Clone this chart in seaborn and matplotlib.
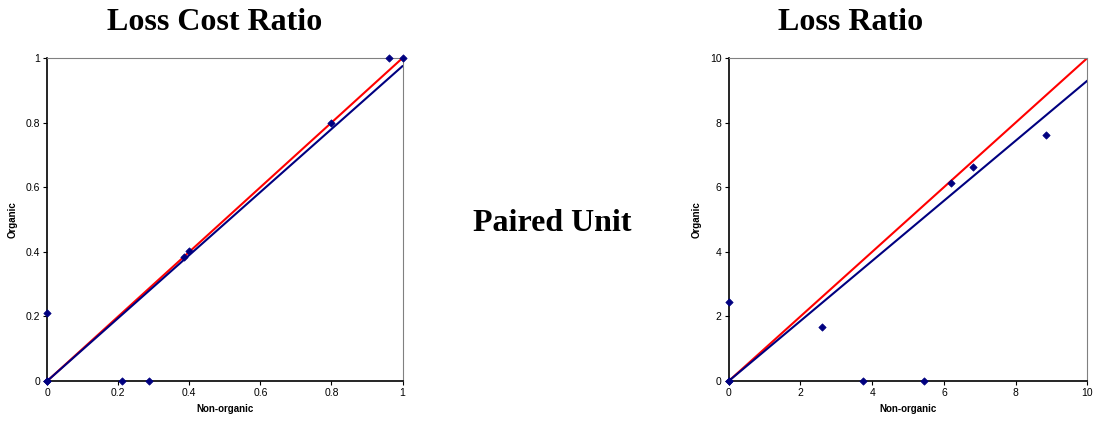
import numpy as np
import pandas as pd
import matplotlib
matplotlib.use("Agg")
import matplotlib.pyplot as plt
import seaborn as sns

# ==============================
# Data
# ==============================
lcr_nonorganic = [0, 0, 0, 0.212, 0.287, 0.385, 0.398, 0.798, 0.962, 1.0]
lcr_organic = [0, 0, 0.212, 0, 0, 0.385, 0.403, 0.800, 1.0, 1.0]
lcr_fit_slope = 0.975

lr_nonorganic = [0, 0, 0, 2.60, 3.75, 5.45, 6.20, 6.82, 8.85]
lr_organic = [0, 0, 2.45, 1.68, 0, 0, 6.12, 6.62, 7.62]
lr_fit_slope = 0.93

panel_titles = ["Loss Cost Ratio", "Loss Ratio"]
center_text = "Paired Unit"
lcr_ticks = [0, 0.2, 0.4, 0.6, 0.8, 1]
lcr_ticklabels = ["0", "0.2", "0.4", "0.6", "0.8", "1"]
lr_ticks = [0, 2, 4, 6, 8, 10]

sns.set_style("white")
plt.rcParams["font.family"] = ["Liberation Sans", "DejaVu Sans"]
plt.rcParams["text.color"] = "black"
plt.rcParams["axes.labelcolor"] = "black"

fig = plt.figure(figsize=(10.94, 4.23), dpi=100)
ax1 = fig.add_axes([0.043, 0.099, 0.325, 0.764])
ax2 = fig.add_axes([0.666, 0.099, 0.328, 0.764])

panels = [
    (ax1, lcr_nonorganic, lcr_organic, lcr_fit_slope, 1.0, lcr_ticks, lcr_ticklabels),
    (ax2, lr_nonorganic, lr_organic, lr_fit_slope, 10.0, lr_ticks, [str(t) for t in lr_ticks]),
]

for ax, xs, ys, slope, top, ticks, labels in panels:
    line_df = pd.DataFrame({"x": [0, top], "equal": [0, top], "fit": [0, top * slope]})
    sns.lineplot(data=line_df, x="x", y="equal", ax=ax, color="#ff0000", linewidth=1.5, zorder=2)
    sns.lineplot(data=line_df, x="x", y="fit", ax=ax, color="#000080", linewidth=1.5, zorder=3)
    pts = pd.DataFrame({"x": xs, "y": ys})
    sns.scatterplot(data=pts, x="x", y="y", ax=ax, marker="D", s=14, color="#000080",
                    edgecolor="#000080", linewidth=0.5, zorder=4, clip_on=False)
    ax.set_xlim(0, top)
    ax.set_ylim(0, top)
    ax.set_xticks(ticks)
    ax.set_xticklabels(labels)
    ax.set_yticks(ticks)
    ax.set_yticklabels(labels)
    ax.tick_params(axis="both", direction="out", length=3, width=0.8, labelsize=7.5,
                   colors="black", bottom=True, left=True, pad=2)
    for side in ["top", "right"]:
        ax.spines[side].set_color("#808080")
        ax.spines[side].set_linewidth(0.8)
    for side in ["left", "bottom"]:
        ax.spines[side].set_color("black")
        ax.spines[side].set_linewidth(1.2)
    ax.set_xlabel("Non-organic", fontsize=7, fontweight="bold", labelpad=4)
    ax.set_ylabel("Organic", fontsize=7, fontweight="bold", labelpad=6)

title_font = dict(fontsize=23, fontweight="bold", family="Liberation Serif",
                  ha="center", va="center", color="black")
fig.text(215 / 1094, 1 - 22 / 423, panel_titles[0], **title_font)
fig.text(851 / 1094, 1 - 22 / 423, panel_titles[1], **title_font)
fig.text(552 / 1094, 1 - 223 / 423, center_text, **title_font)

plt.savefig("out.png", dpi=100)
plt.close()
